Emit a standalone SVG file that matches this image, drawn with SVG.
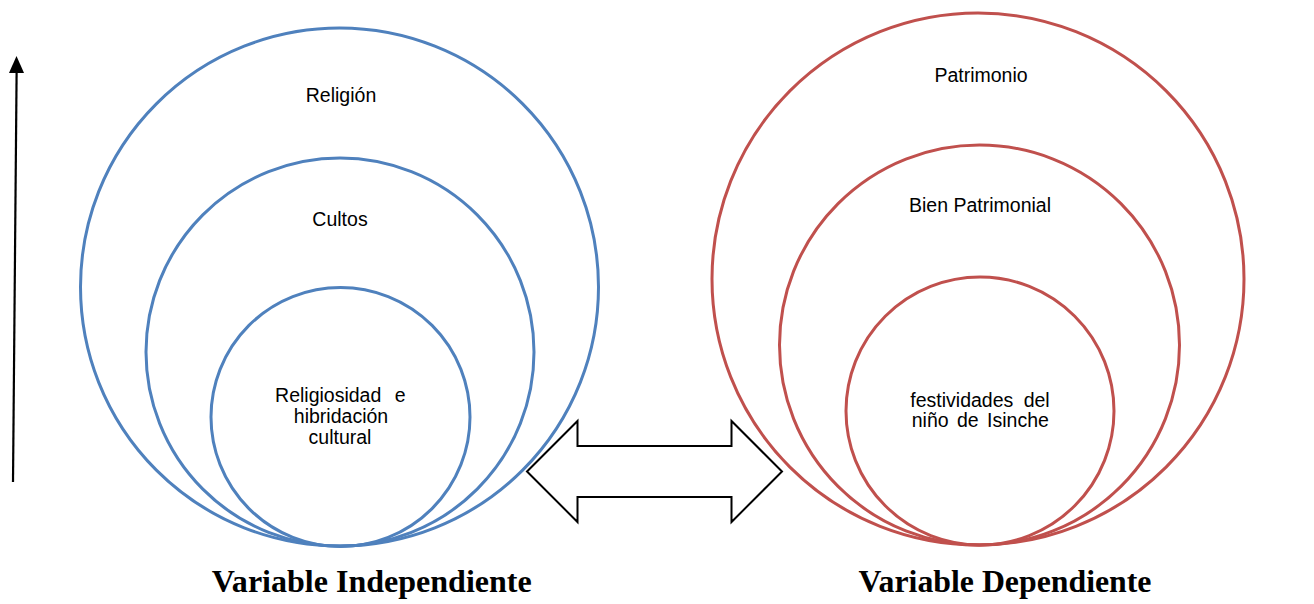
<svg xmlns="http://www.w3.org/2000/svg" width="1314" height="604" viewBox="0 0 1314 604">
<defs>
<style>
.b{fill:none;stroke:#4F81BD;stroke-width:3}
.r{fill:none;stroke:#C0504D;stroke-width:3}
.t{font-family:"Liberation Sans",Arial,sans-serif;font-size:19.5px;fill:#000;text-anchor:middle}
.h{font-family:"Liberation Serif","Times New Roman",serif;font-size:31.5px;font-weight:bold;fill:#000;text-anchor:middle}
</style>
</defs>
<rect width="1314" height="604" fill="#fff"/>
<g id="relig"><circle class="b" cx="339.5" cy="287" r="259"/><text class="t" x="341" y="101.5">Religión</text></g>
<g id="cultos"><circle class="b" cx="340" cy="352" r="194"/><text class="t" x="340" y="225.5">Cultos</text></g>
<g id="religiosidad"><circle class="b" cx="340.5" cy="417" r="129.5"/><text class="t" x="340.3" y="401.5" word-spacing="8">Religiosidad e</text><text class="t" x="341" y="423">hibridación</text><text class="t" x="340" y="444">cultural</text></g>
<g id="patrimonio"><circle class="r" cx="978" cy="279" r="266"/><text class="t" x="981" y="81.5">Patrimonio</text></g>
<g id="bien"><circle class="r" cx="979.5" cy="345" r="200"/><text class="t" x="980" y="212">Bien Patrimonial</text></g>
<g id="festividades"><circle class="r" cx="980" cy="411" r="134"/><text class="t" x="980" y="406.5" word-spacing="5">festividades del</text><text class="t" x="980.3" y="427" word-spacing="3">niño de Isinche</text></g>
<g id="connectors">
<path d="M527,471.5 L577.5,421 L577.5,446 L731.5,446 L731.5,421 L782,471.5 L731.5,522 L731.5,497 L577.5,497 L577.5,522 Z" fill="#fff" stroke="#000" stroke-width="2" stroke-linejoin="miter"/>
<line x1="13" y1="482" x2="16.6" y2="73" stroke="#000" stroke-width="2.2"/>
<path d="M9,73 L24,73 L16.5,56 Z" fill="#000"/>
</g>
<g id="labels">
<text class="h" x="371.7" y="592" textLength="320" lengthAdjust="spacingAndGlyphs">Variable Independiente</text>
<text class="h" x="1005" y="592" textLength="293" lengthAdjust="spacingAndGlyphs">Variable Dependiente</text>
</g>
</svg>
